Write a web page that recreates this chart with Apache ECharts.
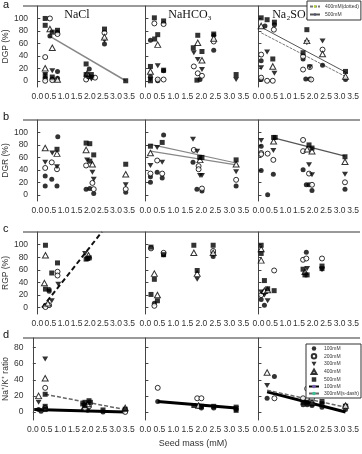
<!DOCTYPE html>
<html><head><meta charset="utf-8">
<script src="https://cdn.jsdelivr.net/npm/echarts@6/dist/echarts.min.js"></script>
<style>html,body{margin:0;padding:0;background:#fff}#c{width:362px;height:454px}</style>
</head><body><div id="c"></div>
<script>
// ---------- labels / ticks ----------
const concs = ['100mM','200mM','300mM','400mM','500mM'];
const salts = ['NaCl','NaHCO\u2083','Na\u2082SO\u2084'];
const yNames = ['DGP (%)','DGR (%)','RGP (%)','Na\u207A/K\u207A ratio'];
const letters = ['a','b','c','d'];
const xTicks = [0,0.5,1,1.5,2,2.5,3,3.5];
const pctTicks = [0,20,40,60,80,100];
const ratioTicks = [0,20,40,60,80];
const xTitle = 'Seed mass (mM)';

// ---------- data: [seed mass, value] ----------
// a = DGP
const a1_100=[[0.48,72],[0.77,78],[0.77,15],[0.30,4],[0.77,4],[1.98,19],[2.1,6],[2.56,59],[0.57,3]];
const a1_200=[[0.48,100],[0.77,75],[0.30,38],[0.30,0],[0.57,1],[1.86,2],[2.2,5],[2.56,77],[1.95,7]];
const a1_300=[[0.57,16],[2.06,3],[2.56,65],[1.95,5],[0.30,10]];
const a1_400=[[0.48,83],[0.57,53],[0.30,20],[1.9,12],[2.56,70],[0.77,2]];
const a1_500=[[0.30,100],[0.30,89],[0.57,78],[0.77,81],[0.30,8],[0.57,6],[1.86,27],[1.86,10],[2.06,10],[2.56,83],[3.37,0]];
const a1_fit=[[0.45,72],[3.37,0]];

const a2_100=[[0.18,65],[0.18,7],[0.65,16],[2.44,73],[2.44,49],[1.95,2],[0.44,0]];
const a2_200=[[0.32,92],[0.65,91],[0.44,2],[0.65,2],[1.73,23],[1.87,12],[2.02,8],[2.44,63]];
const a2_300=[[0.44,24],[1.73,45],[1.87,34],[2.02,18],[3.24,2],[0.18,2]];
const a2_400=[[0.44,58],[0.18,15],[1.87,61],[2.02,33],[2.44,68]];
const a2_500=[[0.32,101],[0.65,96],[0.44,74],[0.33,67],[0.18,23],[0.65,17],[1.87,73],[1.71,53],[2.02,47],[2.44,75],[3.24,10],[0.18,0],[1.84,1]];

const a3_100=[[0.24,88],[0.1,32],[0.1,2],[1.65,35],[1.75,3],[1.9,3],[2.37,25],[3.22,2],[0.59,90]];
const a3_200=[[0.57,82],[0.1,42],[0.1,5],[0.32,0],[0.53,0],[1.65,39],[1.65,18],[1.9,22],[2.37,50],[1.95,2]];
const a3_300=[[0.32,46],[0.1,21],[0.59,12],[1.79,61],[1.9,22],[2.37,64]];
const a3_400=[[0.1,88],[0.53,23],[1.79,64],[2.37,43],[3.22,7]];
const a3_500=[[0.1,101],[0.32,98],[0.59,94],[0.53,35],[1.79,82],[1.65,45],[3.22,15]];
const a3_fit400=[[0.1,77],[3.3,5]];
const a3_fit500=[[0.1,86],[3.3,12]];

// b = DGR
const b1_100=[[0.30,30],[0.30,14],[0.55,25],[0.78,93],[0.75,14],[1.86,9],[2.0,10],[2.15,2],[3.37,4]];
const b1_200=[[0.30,43],[0.55,52],[0.75,41],[1.86,47],[2.1,19],[2.15,9],[3.37,9]];
const b1_300=[[0.30,52],[0.57,67],[0.75,45],[1.9,56],[2.1,36],[2.15,25],[3.37,16]];
const b1_400=[[0.30,75],[0.75,66],[1.86,72],[2.1,49],[3.37,33]];
const b1_500=[[0.75,73],[1.86,83],[2.0,82],[2.0,54],[2.15,64],[3.37,49]];

const b2_100=[[0.18,29],[0.18,20],[0.42,36],[0.65,96],[0.6,27],[1.7,52],[1.84,9],[2.02,6],[3.24,14]];
const b2_200=[[0.18,34],[0.42,55],[0.6,34],[1.73,72],[1.9,46],[1.9,41],[2.02,10],[3.24,24]];
const b2_300=[[0.18,47],[0.42,76],[0.6,52],[1.7,89],[1.85,70],[1.95,31],[2.02,31],[3.24,37]];
const b2_400=[[0.18,67],[1.95,56],[3.24,49]];
const b2_500=[[0.18,78],[0.6,84],[1.94,60],[2.02,60],[3.24,56]];
const b2_fitA=[[0.18,81],[3.24,51]];
const b2_fitB=[[0.18,70],[3.24,48]];

const b3_100=[[0.1,78],[0.1,39],[0.34,0],[0.55,33],[1.65,40],[1.77,16],[1.87,16],[1.98,7],[3.2,9]];
const b3_200=[[0.1,67],[0.1,65],[0.34,66],[0.55,56],[1.65,88],[1.65,70],[1.87,34],[1.98,16],[3.2,20]];
const b3_300=[[0.1,87],[0.55,71],[1.87,48],[1.98,32],[3.2,33]];
const b3_400=[[0.56,86],[1.8,73],[1.98,70],[3.2,53]];
const b3_500=[[0.56,92],[0.62,92],[1.87,80],[1.98,75],[3.2,61]];
const b3_fit=[[0.6,91],[3.2,62]];

// c = RGP
const c1_100=[[0.45,29],[0.45,26],[0.31,4]];
const c1_200=[[0.77,57],[0.77,51],[0.31,1],[0.45,4]];
const c1_300=[[0.8,37],[0.55,11],[1.82,86]];
const c1_400=[[0.31,83],[0.27,39],[1.95,83],[0.4,7]];
const c1_500=[[0.31,99],[0.31,29.5],[0.55,55],[0.77,71],[1.86,77],[1.92,78],[1.98,79]];
const c1_fit=[[0.18,0],[2.46,120]];

const c2_100=[[0.65,84],[0.32,7],[2.42,81]];
const c2_200=[[0.2,94],[0.65,87],[0.32,3],[2.42,90]];
const c2_300=[[1.85,45],[2.42,84]];
const c2_400=[[0.32,54],[0.43,20],[1.73,87],[1.85,54],[2.42,87]];
const c2_500=[[0.2,96],[0.65,84],[0.32,45],[0.2,21],[0.43,11],[1.73,99],[1.85,59],[2.42,99]];

const c3_100=[[0.1,13],[0.22,4],[1.77,88]];
const c3_200=[[0.1,20],[0.22,25],[0.58,59],[1.65,76],[1.77,78],[2.35,78]];
const c3_300=[[0.1,25],[0.22,20],[0.34,11],[1.8,62],[2.35,60]];
const c3_400=[[0.1,75],[0.1,93],[0.22,27],[0.34,28],[1.72,57]];
const c3_500=[[0.1,99],[0.1,86],[0.22,43],[0.34,30],[0.58,27],[1.65,61],[1.72,52],[1.8,52],[2.35,66],[2.35,62]];

// d = Na+/K+ ratio
const d1_100=[[0.21,3],[0.3,1],[1.85,3],[2.0,2],[2.56,0],[1.95,5]];
const d1_200=[[0.45,30],[1.9,5],[2.05,7],[3.37,0],[0.45,5]];
const d1_300=[[0.45,66],[0.21,12],[1.85,8]];
const d1_400=[[0.45,42],[0.21,20],[2.0,10],[3.37,5]];
const d1_500=[[0.45,22],[0.45,7],[0.45,3],[1.82,10],[1.9,12],[2.05,14],[2.1,12],[2.56,2.5],[3.37,3.4],[1.9,8]];
const d1_fit100=[[0.05,3],[3.37,0]];
const d1_fit300=[[0.45,22],[3.37,3]];

const d2_100=[[0.44,13],[1.9,7],[2.0,5],[2.44,5],[3.24,3]];
const d2_200=[[0.44,30],[1.85,17],[2.0,17]];
const d2_300=[[2.0,6],[3.24,4]];
const d2_400=[[1.9,8]];
const d2_500=[[1.73,8],[2.0,7],[2.44,7],[3.24,6],[3.24,2]];
const d2_fit100=[[0.44,13],[3.24,5]];

const d3_100=[[0.59,44],[0.32,17],[1.65,9],[1.8,9],[1.98,8],[2.35,6],[3.22,3]];
const d3_200=[[0.59,17],[1.8,29],[1.65,17],[1.98,17],[3.22,7]];
const d3_300=[[0.32,33],[1.8,12],[3.22,7]];
const d3_400=[[0.32,49],[1.98,12],[3.22,8]];
const d3_500=[[3.22,24],[1.65,12],[1.8,11],[1.98,10],[2.35,13],[2.35,10]];
const d3_fit100=[[0.32,25],[3.22,0]];
const d3_fit300=[[0.32,27],[3.22,6]];

// ---------- assemble ----------
const panelPoints = [
  [[a1_100,a1_200,a1_300,a1_400,a1_500],[a2_100,a2_200,a2_300,a2_400,a2_500],[a3_100,a3_200,a3_300,a3_400,a3_500]],
  [[b1_100,b1_200,b1_300,b1_400,b1_500],[b2_100,b2_200,b2_300,b2_400,b2_500],[b3_100,b3_200,b3_300,b3_400,b3_500]],
  [[c1_100,c1_200,c1_300,c1_400,c1_500],[c2_100,c2_200,c2_300,c2_400,c2_500],[c3_100,c3_200,c3_300,c3_400,c3_500]],
  [[d1_100,d1_200,d1_300,d1_400,d1_500],[d2_100,d2_200,d2_300,d2_400,d2_500],[d3_100,d3_200,d3_300,d3_400,d3_500]]
];

const colLeft=[23,137,249], colW=[114,112,111], xMin=[-0.2,-0.3,-0.35], xMax=[3.8,3.7,3.65];
const rowTop=[6,120,232,338], rowH=[81,81,82,82], yMin=[-10,-10,-10,-10], yMax=[120,120,120,92];

const DOWN='path://M0,0L10,0L5,9Z';
const SQUARE='path://M0,0L10,0L10,10L0,10Z';
const UP='path://M5,0L10,9L0,9Z';
const markStyles=[
  {symbol:'circle',symbolSize:5,itemStyle:{color:'#000'}},
  {symbol:'circle',symbolSize:5,itemStyle:{color:'#fff',borderColor:'#000',borderWidth:1}},
  {symbol:DOWN,symbolSize:[6,5],itemStyle:{color:'#000'}},
  {symbol:UP,symbolSize:[6,5.5],itemStyle:{color:'#fff',borderColor:'#000',borderWidth:1}},
  {symbol:SQUARE,symbolSize:5,itemStyle:{color:'#000'}}
];

const grid=[],xAxis=[],yAxis=[],series=[],graphic=[];
for(let r=0;r<4;r++){
  for(let c=0;c<3;c++){
    const i=r*3+c;
    grid.push({left:colLeft[c],top:rowTop[r],width:colW[c],height:rowH[r]});
    xAxis.push({type:'value',gridIndex:i,min:xMin[c],max:xMax[c],
      axisLine:{show:false},axisTick:{show:false},splitLine:{show:false},
      axisLabel:{customValues:xTicks,formatter:v=>v.toFixed(1),fontSize:8.5,color:'#333',margin:5,fontFamily:'Liberation Sans'},
      name:(r===3&&c===1)?xTitle:'',nameLocation:'middle',nameGap:19,
      nameTextStyle:{fontSize:9,color:'#333',fontFamily:'Liberation Sans'}});
    const ticks=r===3?ratioTicks:pctTicks;
    yAxis.push({type:'value',gridIndex:i,min:yMin[r],max:yMax[r],
      axisLine:{show:true,lineStyle:{color:'#444',width:1}},
      axisTick:{show:true,inside:true,length:3,customValues:ticks,lineStyle:{color:'#444'}},
      splitLine:{show:false},
      axisLabel:{show:c===0,customValues:ticks,fontSize:8.5,color:'#333',margin:4,fontFamily:'Liberation Sans'},
      name:c===0?yNames[r]:'',nameLocation:'middle',nameGap:15,
      nameTextStyle:{fontSize:8.5,color:'#333',fontFamily:'Liberation Sans'}});
    panelPoints[r][c].forEach((pts,k)=>{
      series.push(Object.assign({type:'scatter',name:concs[k],xAxisIndex:i,yAxisIndex:i,data:pts,z:3},markStyles[k]));
    });
  }
  graphic.push({type:'line',shape:{x1:23,y1:rowTop[r],x2:360,y2:rowTop[r]},style:{stroke:'#999',lineWidth:2}});
  graphic.push({type:'text',left:3,top:rowTop[r]-(r===0?7:9),style:{text:letters[r],fontSize:11,fill:'#111',fontFamily:'Liberation Sans'}});
}
function fit(name,idx,data,color,width,type){
  series.push({type:'line',name:name,xAxisIndex:idx,yAxisIndex:idx,data:data,symbol:'none',z:2,
    lineStyle:{color:color,width:width,type:type},silent:true});
}
fit('fit a1',0,a1_fit,'#888',1.5,'solid');
fit('400mM(dotted)',2,a3_fit400,'#777',1,[3,1]);
fit('500mM ',2,a3_fit500,'#555',1,'solid');
fit('fit b2a',4,b2_fitA,'#888',1.2,'solid');
fit('fit b2b',4,b2_fitB,'#888',1.2,'solid');
fit('fit b3',5,b3_fit,'#555',1.2,'solid');
fit('fit c1',6,c1_fit,'#111',2,[5,3]);
fit('100mM ',9,d1_fit100,'#000',3,'solid');
fit('300mM(s-dash)',9,d1_fit300,'#666',1.5,[4,2]);
fit('100mM ',10,d2_fit100,'#000',3,'solid');
fit('100mM ',11,d3_fit100,'#000',3,'solid');
fit('300mM(s-dash)',11,d3_fit300,'#666',1.5,[4,2]);

// titles
const titleX=[77,190,291];
salts.forEach((s,c)=>graphic.push({type:'text',x:titleX[c],y:9,style:{text:s,fontSize:12,fill:'#111',fontFamily:'Liberation Serif',align:'center'}}));

const legendText={fontSize:5,color:'#333',fontFamily:'Liberation Sans'};
const chart=echarts.init(document.getElementById('c'),null,{renderer:'canvas'});
chart.setOption({
  animation:false,
  grid,xAxis,yAxis,series,graphic,
  legend:[
    {data:['400mM(dotted)','500mM '],orient:'vertical',left:307,top:1,itemWidth:10,itemHeight:3,itemGap:3,
     padding:[3,2,3,2],borderColor:'#333',borderWidth:1,backgroundColor:'#fff',symbolKeepAspect:true,
     textStyle:legendText,selectedMode:false},
    {data:['100mM','200mM','300mM','400mM','500mM','100mM ','300mM(s-dash)'],orient:'vertical',left:306,top:344,
     itemWidth:10,itemHeight:4.5,itemGap:2,padding:[2,2,2,2],borderColor:'#333',borderWidth:1,backgroundColor:'#fff',
     symbolKeepAspect:true,textStyle:legendText,selectedMode:false}
  ]
});
</script></body></html>
